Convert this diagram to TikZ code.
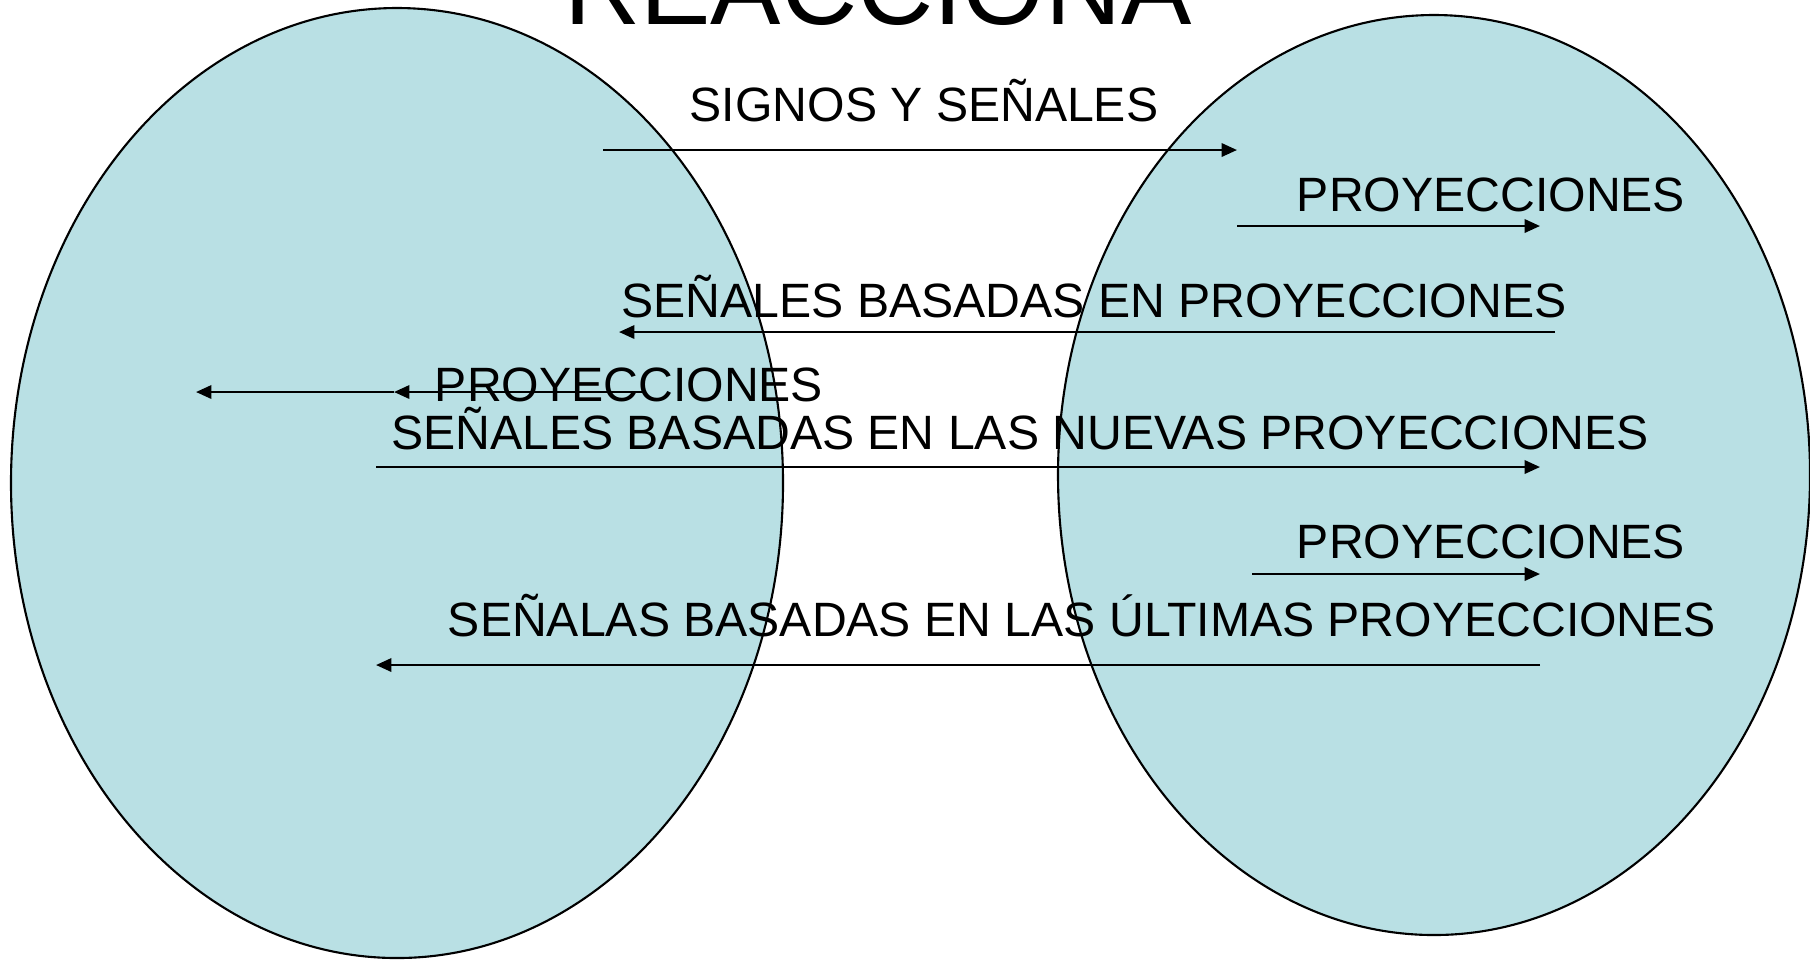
\documentclass[tikz,border=0pt]{standalone}
\usepackage{fontspec}
\setmainfont{Liberation Sans}
\usepackage{tikz}
\usetikzlibrary{arrows.meta}
\usepackage{xcolor}
\definecolor{celeste}{RGB}{185,224,228}

\begin{document}
\begin{tikzpicture}[x=0.01cm, y=-0.01cm,
        burbuja/.style={fill=celeste, draw=black, line width=0.6pt},
        flecha/.style={-{Triangle[length=4.4pt,width=3.8pt]}, line width=0.7pt},
        lbl/.style={font=\fontsize{13.7}{16}\selectfont, inner sep=0pt, anchor=base}]
        \useasboundingbox (0,0) rectangle (1810,959);
        \clip (0,0) rectangle (1810,959);
        \draw[burbuja] (397,483) ellipse [x radius=386, y radius=475];
        \draw[burbuja] (1434,475) ellipse [x radius=376, y radius=460];
        \node[lbl, font=\fontsize{30}{34}\selectfont] (titulo) at (878,24) {REACCIONA};
        \node[lbl] (signos) at (924,121) {SIGNOS Y SEÑALES};
        \node[lbl] (proy1) at (1491,211) {PROYECCIONES};
        \node[lbl] (senales1) at (1094,317) {SEÑALES BASADAS EN PROYECCIONES};
        \node[lbl] (proy2) at (629,401) {PROYECCIONES};
        \node[lbl] (senales2) at (1020,449) {SEÑALES BASADAS EN LAS NUEVAS PROYECCIONES};
        \node[lbl] (proy3) at (1491,558) {PROYECCIONES};
        \node[lbl] (senales3) at (1082,636) {SEÑALAS BASADAS EN LAS ÚLTIMAS PROYECCIONES};
        \coordinate (s1) at (603,150);   \coordinate (e1) at (1237,150);
        \coordinate (s2) at (1237,226);  \coordinate (e2) at (1540,226);
        \coordinate (s3) at (1555,332);  \coordinate (e3) at (619,332);
        \coordinate (s4) at (646,392);   \coordinate (m4) at (394,392);
        \coordinate (e4) at (196,392);
        \coordinate (s5) at (376,467);   \coordinate (e5) at (1540,467);
        \coordinate (s6) at (1252,574);  \coordinate (e6) at (1540,574);
        \coordinate (s7) at (1540,665);  \coordinate (e7) at (376,665);
        \draw[flecha] (s1) -- (e1);
        \draw[flecha] (s2) -- (e2);
        \draw[flecha] (s3) -- (e3);
        \draw[flecha] (s4) -- (m4);
        \draw[flecha] (m4) -- (e4);
        \draw[flecha] (s5) -- (e5);
        \draw[flecha] (s6) -- (e6);
        \draw[flecha] (s7) -- (e7);
    \end{tikzpicture}
\end{document}
